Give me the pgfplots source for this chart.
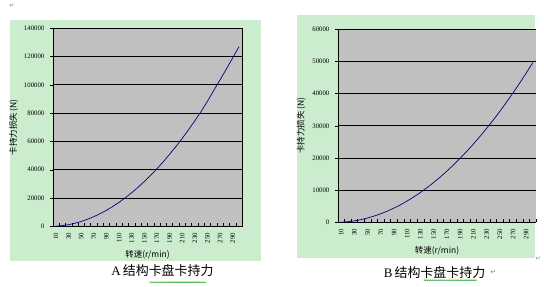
\documentclass[border=0pt]{standalone}
\usepackage{pgfplots}
\pgfplotsset{compat=1.18}
\usepackage{fontspec}
\setmainfont{Liberation Serif}
\newfontfamily\cjk{Noto Sans CJK SC}
\newfontfamily\sym{DejaVu Sans}
\usetikzlibrary{decorations.pathmorphing}
\definecolor{panelgreen}{RGB}{204,236,206}
\definecolor{plotgray}{RGB}{192,192,192}
\definecolor{navyline}{RGB}{0,0,128}
\pgfplotsset{
  mystyle/.style={
    scale only axis,
    xmin=5, xmax=305, ymin=0,
    axis background/.style={fill=plotgray},
    xtick={10,30,...,290},
    minor xtick={5,15,...,305},
    tick pos=left,
    tick align=outside,
    major tick length=3pt,
    minor tick length=3pt,
    major x tick style={draw=none},
    minor x tick style={black, line width=0.5pt, yshift=3pt},
    y tick style={black, line width=0.5pt},
    ymajorgrids,
    grid style={black, line width=0.8pt},
    scaled y ticks=false,
    /pgf/number format/assume math mode=true,
    yticklabel style={/pgf/number format/fixed, /pgf/number format/1000 sep={}, font=\fontsize{6.8}{7}\selectfont, xshift=-2pt},
    xticklabel style={rotate=90, anchor=east, font=\fontsize{6.8}{7}\selectfont},
    xlabel={\cjk 转速(r/min)},
    ylabel={\cjk 卡持力损失 (N)},
    label style={font=\cjk\fontsize{8.5}{9}\selectfont},
    axis line style={black, line width=0.6pt},
  }
}
\begin{document}
\begin{tikzpicture}[x=1pt,y=1pt]
\fill[white] (0,0) rectangle (544,286);
\fill[panelgreen] (10,25) rectangle (262,267);
\fill[panelgreen] (298,28) rectangle (537,272);
\node[text=gray, font=\sym\fontsize{6}{6}\selectfont] at (12,282) {↵};
\node[text=gray, font=\sym\fontsize{6}{6}\selectfont] at (540,28) {↵};

\begin{axis}[mystyle, at={(53pt,60pt)}, anchor=south west,
  width=190pt, height=199pt, ymax=140000, ytick={0,20000,...,140000},
  ylabel style={yshift=-1pt}]
\addplot[navyline, line width=0.7pt, mark=none] table {
x y
10 141
20 564
30 1269
40 2256
50 3525
60 5076
70 6909
80 9024
90 11421
100 14100
110 17061
120 20304
130 23829
140 27636
150 31725
160 36096
170 40749
180 45684
190 50901
200 56400
210 62181
220 68244
230 74589
240 81216
250 88400
260 96000
270 103500
280 111200
290 119000
300 127000
};
\end{axis}

\begin{axis}[mystyle, at={(339pt,64pt)}, anchor=south west,
  width=199pt, height=194pt, ymax=60000, ytick={0,10000,...,60000},
  axis lines*=left]
\addplot[navyline, line width=0.7pt, mark=none] table {
x y
10 55
20 221
30 496
40 883
50 1379
60 1986
70 2703
80 3530
90 4468
100 5516
110 6674
120 7943
130 9322
140 10811
150 12411
160 14121
170 15941
180 17872
190 19913
200 22064
210 24326
220 26697
230 29180
240 31772
250 34475
260 37288
270 40211
280 43245
290 46390
300 49644
};
\end{axis}

\node[anchor=center] at (163,16) {\fontsize{13}{14}\selectfont A\,{\cjk 结构卡盘卡持力}};
\node[anchor=center] at (436,14) {\fontsize{13}{14}\selectfont B\,{\cjk 结构卡盘卡持力}};
\node[text=gray, font=\sym\fontsize{7}{7}\selectfont] at (495,14) {↵};
\draw[green!60!black, line width=0.4pt, decorate, decoration={snake, amplitude=0.6pt, segment length=2pt}] (150,4) -- (207,4);
\draw[green!60!black, line width=0.4pt, decorate, decoration={snake, amplitude=0.6pt, segment length=2pt}] (425,6) -- (479,6);
\end{tikzpicture}
\end{document}
